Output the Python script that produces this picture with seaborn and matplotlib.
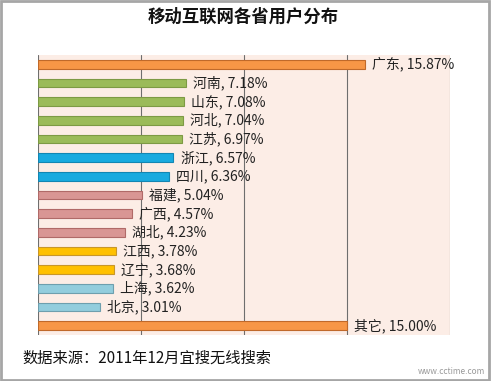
import seaborn as sns
import matplotlib.pyplot as plt
import pandas as pd
from matplotlib.patches import Rectangle

provinces = ["广东", "河南", "山东", "河北", "江苏", "浙江", "四川", "福建",
             "广西", "湖北", "江西", "辽宁", "上海", "北京", "其它"]
shares = [15.87, 7.18, 7.08, 7.04, 6.97, 6.57, 6.36, 5.04,
          4.57, 4.23, 3.78, 3.68, 3.62, 3.01, 15.00]
fill_colors = ["#F79646", "#9BBB59", "#9BBB59", "#9BBB59", "#9BBB59",
               "#1AAADF", "#1AAADF", "#D99694", "#D99694", "#D99694",
               "#FFC000", "#FFC000", "#93CDDD", "#93CDDD", "#F79646"]
edge_colors = ["#C0692A", "#7D9A44", "#7D9A44", "#7D9A44", "#7D9A44",
               "#1386B3", "#1386B3", "#B06A68", "#B06A68", "#B06A68",
               "#C8962A", "#C8962A", "#6E9FAE", "#6E9FAE", "#C0692A"]

sns.set_theme(style="white")
plt.rcParams['font.family'] = ['Noto Sans CJK SC', 'DejaVu Sans']

df = pd.DataFrame({"province": provinces, "share": shares})

fig = plt.figure(figsize=(4.91, 3.81), dpi=100)
ax = fig.add_axes([38 / 491, 1 - 335 / 381, 412 / 491, 280 / 381])
ax.set_facecolor("#FCEDE6")

sns.barplot(data=df, x="share", y="province", hue="province",
            palette=fill_colors, saturation=1, legend=False, width=0.46,
            orient="h", ax=ax)

for bar, ec in zip(ax.patches, edge_colors):
    bar.set_edgecolor(ec)
    bar.set_linewidth(0.8)

for i, (name, val) in enumerate(zip(provinces, shares)):
    ax.text(val + 0.35, i, "{}, {:.2f}%".format(name, val),
            va="center", ha="left", fontsize=10, color="#222222")

ax.set_xlim(0, 20)
ax.set_xticks([0, 5, 10, 15, 20])
ax.grid(axis="x", color="#6E6E6E", linewidth=0.8)
ax.set_axisbelow(True)
ax.set_xticklabels([])
ax.set_yticks([])
ax.set_xlabel("")
ax.set_ylabel("")
for s in ax.spines.values():
    s.set_visible(False)
ax.tick_params(length=0)

fig.text(243 / 491, 1 - 17 / 381, "移动互联网各省用户分布", ha="center", va="center",
         fontsize=12.5, fontweight="bold", color="#111111")
fig.text(22 / 491, 1 - 358 / 381, "数据来源：2011年12月宜搜无线搜索", ha="left",
         va="center", fontsize=11, color="#111111")
fig.text(485 / 491, 1 - 372 / 381, "www.cctime.com", ha="right", va="center",
         fontsize=6, color="#9A9A9A")

fig.patches.append(Rectangle((0.002, 0.003), 0.994, 0.994, transform=fig.transFigure,
                             fill=False, edgecolor="#A6A6A6", linewidth=2))

fig.savefig("out.png", dpi=100)
